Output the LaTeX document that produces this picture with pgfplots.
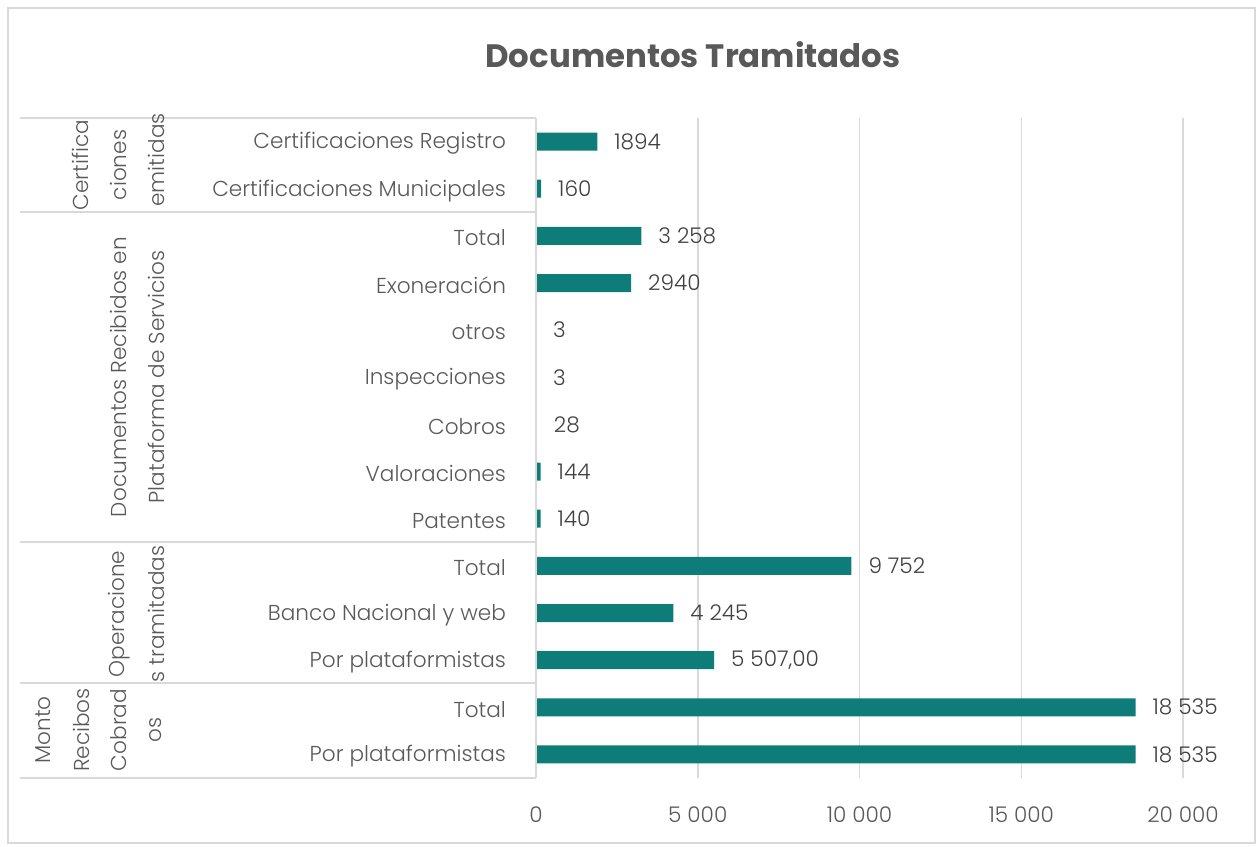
\documentclass[border=0pt]{standalone}
\usepackage{fontspec}
\setmainfont{Poppins}[UprightFont=* Light, BoldFont=* Bold]
\usepackage{pgfplots}
\pgfplotsset{compat=1.18}
\definecolor{barteal}{HTML}{0E7D7A}
\definecolor{labelgray}{HTML}{595959}
\definecolor{valgray}{HTML}{404040}
\definecolor{linegray}{HTML}{D9D9D9}
\begin{document}
\begin{tikzpicture}[x=0.5pt,y=0.5pt]
\useasboundingbox (0,0) rectangle (1257,846);
\draw[linegray, line width=0.75pt] (8,3) rectangle (1255,838);
\node[font=\fontsize{16.2}{19}\selectfont\bfseries, text=labelgray] at (693,791) {Documentos Tramitados};
\begin{axis}[
  at={(268pt,34pt)}, anchor=south west,
  width=323.5pt, height=330pt, scale only axis,
  xbar, bar width=9pt,
  xmin=0, xmax=20000,
  ymin=-0.5, ymax=13.5, y dir=reverse,
  ytick={0,...,13},
  yticklabels={Certificaciones Registro, Certificaciones Municipales, Total, Exoneración, otros, Inspecciones, Cobros, Valoraciones, Patentes, Total, Banco Nacional y web, Por plataformistas, Total, Por plataformistas},
  xtick={0,5000,10000,15000,20000},
  xticklabels={0,5 000,10 000,15 000,20 000},
  xmajorgrids, grid style={draw=linegray, line width=0.75pt},
  axis line style={draw=none},
  major tick length=0pt,
  tick label style={font=\fontsize{10.8}{13}\selectfont, text=labelgray},
  xticklabel style={yshift=-11pt},
  yticklabel style={xshift=-11.5pt, yshift=-1pt},
  nodes near coords, point meta=explicit symbolic,
  nodes near coords style={anchor=west, xshift=5pt, text=valgray, font=\fontsize{10.8}{13}\selectfont},
  clip=false,
]
\addplot[fill=barteal, draw=none] coordinates {
  (1894,0) [1894]
  (160,1) [160]
  (3258,2) [3 258]
  (2940,3) [2940]
  (3,4) [3]
  (3,5) [3]
  (28,6) [28]
  (144,7) [144]
  (140,8) [140]
  (9752,9) [9 752]
  (4245,10) [4 245]
  (5507,11) [5 507,00]
  (18535,12) [18 535]
  (18535,13) [18 535]
};
\draw[linegray, line width=0.75pt] (rel axis cs:0,0) -- (rel axis cs:0,1);
\end{axis}
\foreach \yy in {728,634,304,163,68} {
  \draw[linegray, line width=0.75pt] (20,\yy) -- (536,\yy);
}
\begin{scope}[every node/.style={rotate=90, text=labelgray, font=\fontsize{10.8}{13}\selectfont, inner sep=0pt}]
\node at (80,681) {Certifica};
\node at (118,681) {ciones};
\node at (156,686) {emitidas};
\node at (118,469) {Documentos Recibidos en};
\node at (156,469) {Plataforma de Servicios};
\node at (119,232) {Operacione};
\node at (156,232) {s tramitadas};
\node at (43,116) {Monto};
\node at (81,116) {Recibos};
\node at (119,116) {Cobrad};
\node at (156,116) {os};
\end{scope}
\end{tikzpicture}
\end{document}
